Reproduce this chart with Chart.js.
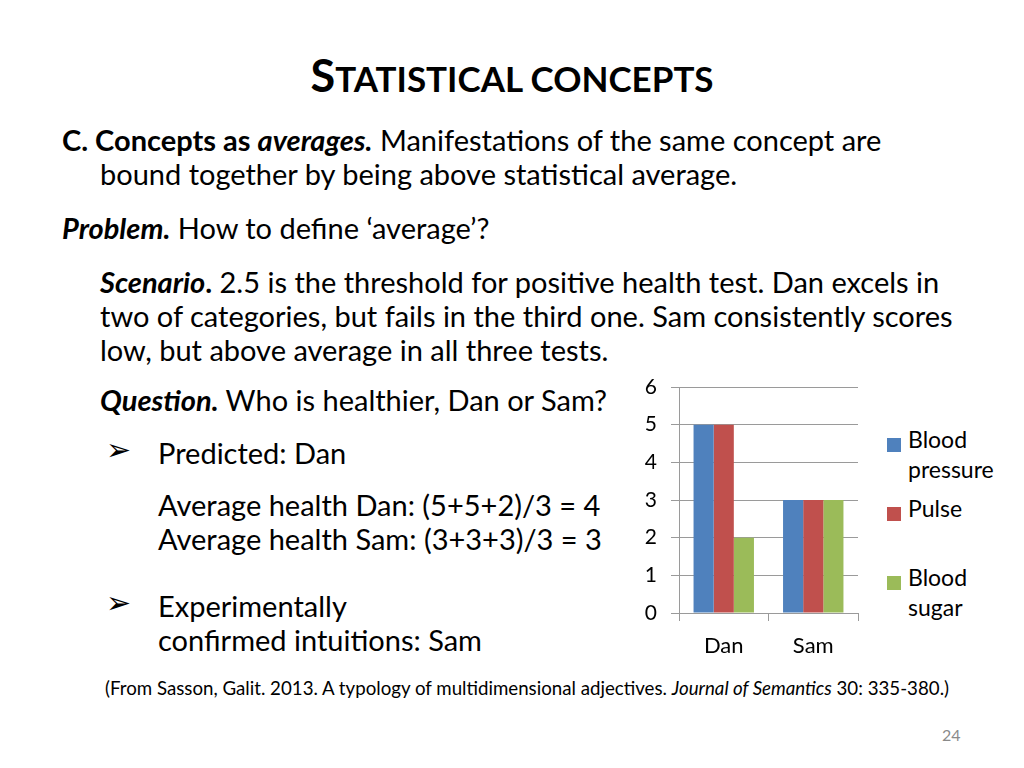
<!DOCTYPE html>
<html>
<head>
<meta charset="utf-8">
<script src="https://cdn.jsdelivr.net/npm/chart.js@4"></script>
<style>
  html, body { margin:0; padding:0; background:#fff; }
  body { width:1024px; height:768px; position:relative; overflow:hidden;
         font-family: Lato, "Open Sans", sans-serif; color:#000; }
  .t { position:absolute; white-space:nowrap; line-height:1.2; font-size:29px; }
  .title { font-weight:700; font-size:45px; left:0; width:1024px; text-align:center; }
  .title .sc { font-size:35px; }
  .arrow { position:absolute; font-family:"DejaVu Sans"; font-size:30px; line-height:1.2; }
  #chartBox { position:absolute; left:620px; top:370px; width:250px; height:300px; }
  #legend { position:absolute; left:887px; top:424px; font-size:23px; line-height:30px; }
  #legend .item { position:relative; height:69px; padding-left:21px; width:100px; white-space:normal; }
  #legend .box { position:absolute; left:0; top:14px; width:14px; height:14px; }
</style>
</head>
<body>

<div class="t title" style="top:48px;">S<span class="sc">TATISTICAL CONCEPTS</span></div>

<div class="t" style="left:62px; top:123px;"><b>C. Concepts as <i>averages.</i></b> Manifestations of the same concept are</div>
<div class="t" style="left:100px; top:157px;">bound together by being above statistical average.</div>
<div class="t" style="left:62px; top:211px;"><b><i>Problem.</i></b> How to define ‘average’?</div>

<div class="t" style="left:100px; top:265px;"><b><i>Scenario</i>.</b> 2.5 is the threshold for positive health test. Dan excels in</div>
<div class="t" style="left:100px; top:299px;">two of categories, but fails in the third one. Sam consistently scores</div>
<div class="t" style="left:100px; top:333px;">low, but above average in all three tests.</div>
<div class="t" style="left:100px; top:383px;"><b><i>Question.</i></b> Who is healthier, Dan or Sam?</div>

<div class="arrow" style="left:106px; top:432px;">➢</div>
<div class="t" style="left:158px; top:436px;">Predicted: Dan</div>
<div class="t" style="left:158px; top:488px;">Average health Dan: (5+5+2)/3 = 4</div>
<div class="t" style="left:158px; top:522px;">Average health Sam: (3+3+3)/3 = 3</div>

<div class="arrow" style="left:106px; top:585px;">➢</div>
<div class="t" style="left:158px; top:589px;">Experimentally</div>
<div class="t" style="left:158px; top:623px;">confirmed intuitions: Sam</div>

<div class="t" style="left:105px; top:677px; font-size:18.7px;">(From Sasson, Galit. 2013. A typology of multidimensional adjectives. <i>Journal of Semantics</i> 30: 335-380.)</div>
<div class="t" style="left:942px; top:725px; font-size:16px; color:#8a8a8a;">24</div>

<div id="chartBox"><canvas id="chart"></canvas></div>
<div id="legend"></div>

<script>
/* ---------- data ---------- */
const people    = ['Dan', 'Sam'];
const seriesNames  = ['Blood pressure', 'Pulse', 'Blood sugar'];
const bloodPressure = [5, 3];
const pulse         = [5, 3];
const bloodSugar    = [2, 3];
const yTicks = [0, 1, 2, 3, 4, 5, 6];

const colors = ['#4F81BD', '#C0504D', '#9BBB59'];
const gridGray = '#9a9a9a';

/* ---------- chart ---------- */
const chart = new Chart(document.getElementById('chart'), {
  type: 'bar',
  data: {
    labels: people,
    datasets: [bloodPressure, pulse, bloodSugar].map((vals, i) => ({
      label: seriesNames[i],
      data: vals,
      backgroundColor: colors[i],
      borderWidth: 0,
      categoryPercentage: 0.675,
      barPercentage: 1.0
    }))
  },
  options: {
    responsive: true,
    maintainAspectRatio: false,
    animation: false,
    layout: { padding: { top: 17, right: 12, left: 0, bottom: 0 } },
    plugins: { legend: { display: false }, tooltip: { enabled: false } },
    scales: {
      y: {
        min: 0, max: 6,
        afterFit: s => { s.width = 59; s.paddingTop = 0; s.paddingBottom = 0; },
        afterBuildTicks: s => { s.ticks = yTicks.map(v => ({ value: v })); },
        ticks: { color: '#000', padding: 14, font: { family: 'Lato', size: 21 } },
        grid: { color: gridGray, lineWidth: 1, tickLength: 8 },
        border: { color: gridGray }
      },
      x: {
        afterFit: s => { s.height = 57; },
        ticks: { color: '#000', padding: 12, font: { family: 'Lato', size: 22 } },
        grid: { drawOnChartArea: false, drawTicks: true, tickLength: 8, color: gridGray, offset: true },
        border: { color: gridGray }
      }
    }
  }
});

/* ---------- legend (html, from chart datasets) ---------- */
const legend = document.getElementById('legend');
chart.data.datasets.forEach(ds => {
  const item = document.createElement('div');
  item.className = 'item';
  item.innerHTML = `<span class="box" style="background:${ds.backgroundColor}"></span>${ds.label}`;
  legend.appendChild(item);
});
</script>
</body>
</html>
